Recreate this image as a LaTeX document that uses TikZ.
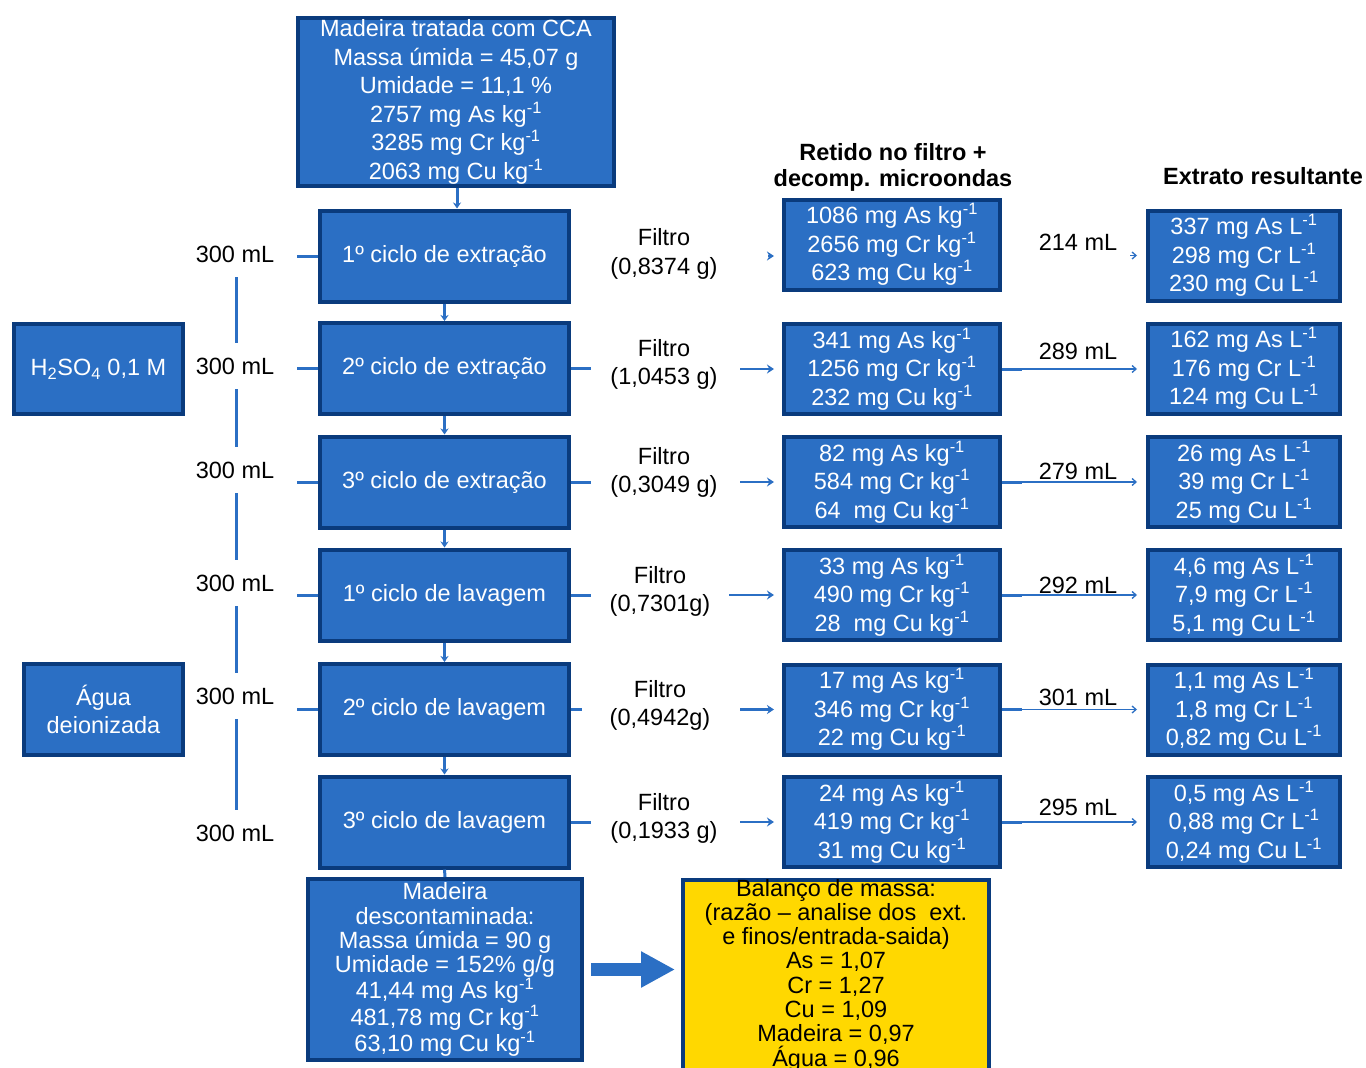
\documentclass[tikz,border=0pt]{standalone}
\usepackage{fontspec}
\setmainfont{Liberation Sans}
\usetikzlibrary{arrows.meta,calc}
\definecolor{bfill}{HTML}{2B6FC4}
\definecolor{bdraw}{HTML}{0A3B7D}
\definecolor{lblue}{HTML}{2B6FC4}
\definecolor{ybal}{HTML}{FFD800}
\newcommand\supm{\textsuperscript{-1}}
\begin{document}
\begin{tikzpicture}[x=1pt,y=-1pt,
  box/.style={draw=bdraw, fill=bfill, line width=4pt, text=white, inner sep=0pt,
    align=center, font=\fontsize{23.5}{28.5}\selectfont},
  cyc/.style={box, minimum width=249pt, minimum height=91pt},
  ret/.style={box, minimum width=216pt, minimum height=90pt},
  ext/.style={box, minimum width=192pt, minimum height=90pt},
  lbl/.style={text=black, inner sep=0pt, align=center, font=\fontsize{23.5}{28.5}\selectfont},
  hdr/.style={text=black, inner sep=0pt, align=center, font=\bfseries\fontsize{23.5}{28}\selectfont},
  vol/.style={lbl, minimum height=46pt},
  vline/.style={lblue, line width=3pt},
  stub/.style={lblue, line width=3pt},
  varr/.style={lblue, line width=3pt, -{Stealth[length=6pt,width=8pt]}},
  farr/.style={lblue, line width=2.5pt, -{Stealth[length=7pt,width=9pt]}},
  tarr/.style={lblue, line width=1.3pt, -{Straight Barb[length=4pt,width=7pt]}}
]
\useasboundingbox (0,0) rectangle (1366,1068);
\fill[white] (0,0) rectangle (1366,1068);

% main column
\node[box, minimum width=316pt, minimum height=168pt] (top) at (456,102)
  {Madeira tratada com CCA\\Massa úmida = 45,07 g\\Umidade = 11,1 \%\\2757 mg As kg\supm\\3285 mg Cr kg\supm\\2063 mg Cu kg\supm};
\node[cyc] (c1) at (444.5,256) {1º ciclo de extração};
\node[cyc] (c2) at (444.5,368.5) {2º ciclo de extração};
\node[cyc] (c3) at (444.5,482) {3º ciclo de extração};
\node[cyc] (c4) at (444.5,595) {1º ciclo de lavagem};
\node[cyc] (c5) at (444.5,709.5) {2º ciclo de lavagem};
\node[cyc] (c6) at (444.5,822) {3º ciclo de lavagem};
\node[box, minimum width=274pt, minimum height=181pt, font=\fontsize{23.5}{24.3}\selectfont] (mad) at (445,969.5)
  {Madeira\\descontaminada:\\Massa úmida = 90 g\\Umidade = 152\% g/g\\41,44 mg As kg\supm\\481,78 mg Cr kg\supm\\63,10 mg Cu kg\supm};

% reagents
\node[box, minimum width=169pt, minimum height=90pt] (acid) at (98.5,369) {H\textsubscript{2}SO\textsubscript{4} 0,1 M};
\node[box, minimum width=159pt, minimum height=91pt] (agua) at (103.5,709.5) {Água\\deionizada};

% volumes
\node[vol] (v1) at (235,254) {300 mL};
\node[vol] (v2) at (235,366) {300 mL};
\node[vol] (v3) at (235,470) {300 mL};
\node[vol] (v4) at (235,583) {300 mL};
\node[vol] (v5) at (235,696) {300 mL};
\node[vol] (v6) at (235,833) {300 mL};
\draw[vline] (v1.south -| 236,0) -- (v2.north -| 236,0);
\draw[vline] (v2.south -| 236,0) -- (v3.north -| 236,0);
\draw[vline] (v3.south -| 236,0) -- (v4.north -| 236,0);
\draw[vline] (v4.south -| 236,0) -- (v5.north -| 236,0);
\draw[vline] (v5.south -| 236,0) -- (v6.north -| 236,0);

% left stubs
\foreach \c in {c1,c2,c3,c4,c5} \draw[stub] (\c.west) -- ++(-21,0);
% right stubs
\foreach \c in {c2,c3,c4,c6} \draw[stub] (\c.east) -- ++(20,0);
\draw[stub] (c5.east) -- ++(11,0);

% vertical arrows
\draw[varr] (top.south -| 457,0) -- (c1.north -| 457,0);
\draw[varr] (c1.south) -- (c2.north);
\draw[varr] (c2.south) -- (c3.north);
\draw[varr] (c3.south) -- (c4.north);
\draw[varr] (c4.south) -- (c5.north);
\draw[varr] (c5.south) -- (c6.north);
\draw[stub] (c6.south) -- (mad.north);

% headers
\node[hdr] (h1) at (893,152) {Retido no filtro +};
\node[hdr] (h2) at (893,180) {decomp. microondas};
\node[hdr] (h3) at (1263,176) {Extrato resultante};

% filter labels
\node[lbl] (f1) at (664,254) {Filtro\\(0,8374 g)};
\node[lbl] (f2) at (664,364.5) {Filtro\\(1,0453 g)};
\node[lbl] (f3) at (664,472.5) {Filtro\\(0,3049 g)};
\node[lbl] (f4) at (660,591.5) {Filtro\\(0,7301g)};
\node[lbl] (f5) at (660,705.5) {Filtro\\(0,4942g)};
\node[lbl] (f6) at (664,818.5) {Filtro\\(0,1933 g)};

% retained boxes
\node[ret] (r1) at (892,244.5) {1086 mg As kg\supm\\2656 mg Cr kg\supm\\623 mg Cu kg\supm};
\node[ret] (r2) at (892,369) {341 mg As kg\supm\\1256 mg Cr kg\supm\\232 mg Cu kg\supm};
\node[ret] (r3) at (892,482) {82 mg As kg\supm\\584 mg Cr kg\supm\\64\ \ mg Cu kg\supm};
\node[ret] (r4) at (892,595) {33 mg As kg\supm\\490 mg Cr kg\supm\\28\ \ mg Cu kg\supm};
\node[ret] (r5) at (892,709.5) {17 mg As kg\supm\\346 mg Cr kg\supm\\22 mg Cu kg\supm};
\node[ret] (r6) at (892,822) {24 mg As kg\supm\\419 mg Cr kg\supm\\31 mg Cu kg\supm};

% extract boxes
\node[ext] (e1) at (1244,255.5) {337 mg As L\supm\\298 mg Cr L\supm\\230 mg Cu L\supm};
\node[ext] (e2) at (1244,368.5) {162 mg As L\supm\\176 mg Cr L\supm\\124 mg Cu L\supm};
\node[ext] (e3) at (1244,482) {26 mg As L\supm\\39 mg Cr L\supm\\25 mg Cu L\supm};
\node[ext] (e4) at (1244,595) {4,6 mg As L\supm\\7,9 mg Cr L\supm\\5,1 mg Cu L\supm};
\node[ext] (e5) at (1244,709.5) {1,1 mg As L\supm\\1,8 mg Cr L\supm\\0,82 mg Cu L\supm};
\node[ext] (e6) at (1244,822) {0,5 mg As L\supm\\0,88 mg Cr L\supm\\0,24 mg Cu L\supm};

% filter arrows
\draw[farr] ($(r1.west |- c1.east)+(-14,0)$) -- ($(r1.west |- c1.east)+(-8,0)$);
\draw[farr] ($(r2.west)+(-42,0)$) -- ($(r2.west)+(-8,0)$);
\draw[farr] ($(r3.west)+(-42,0)$) -- ($(r3.west)+(-8,0)$);
\draw[farr] ($(r4.west)+(-53,0)$) -- ($(r4.west)+(-8,0)$);
\draw[farr] ($(r5.west)+(-42,0)$) -- ($(r5.west)+(-8,0)$);
\draw[farr] ($(r6.west)+(-42,0)$) -- ($(r6.west)+(-8,0)$);

% volume labels for extracts
\node[lbl] (w1) at (1078,242) {214 mL};
\node[lbl] (w2) at (1078,351) {289 mL};
\node[lbl] (w3) at (1078,471) {279 mL};
\node[lbl] (w4) at (1078,585) {292 mL};
\node[lbl] (w5) at (1078,697) {301 mL};
\node[lbl] (w6) at (1078,807) {295 mL};

% extract arrows
\draw[tarr] ($(e1.west)+(-16,0)$) -- ($(e1.west)+(-9,0)$);
\foreach \i in {2,...,6} {
  \draw[stub] (r\i.east) -- ++(20,0);
  \draw[tarr] (r\i.east) -- ($(r\i.east -| e\i.west)+(-9,0)$);
}

% mass balance
\node[draw=bdraw, fill=ybal, line width=4pt, minimum width=306pt, minimum height=210pt, inner sep=0pt] (bal) at (836,985) {};
\node[lbl, font=\fontsize{23.5}{24.3}\selectfont] (baltxt) at (836,975)
  {Balanço de massa:\\(razão -- analise dos\ \ ext.\\e finos/entrada-saida)\\As = 1,07\\Cr = 1,27\\Cu = 1,09\\Madeira = 0,97\\Água = 0,96};
\draw[lblue, line width=13pt, -{Triangle[length=34pt,width=34pt]}]
  ($(mad.east)+(7,0)$) -- ($(mad.east -| bal.west)+(-6,0)$);
\end{tikzpicture}
\end{document}
